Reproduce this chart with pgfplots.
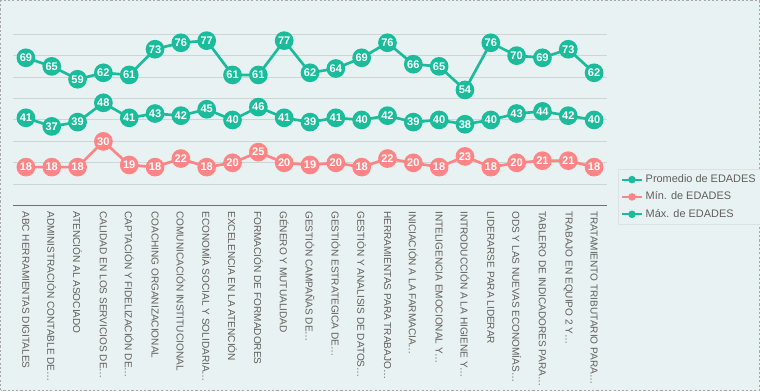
\documentclass[border=0pt]{standalone}
\usepackage{pgfplots}
\usepackage{pgfplotstable}
\pgfplotsset{compat=1.18}
\usepackage{fontspec}
\setmainfont{Liberation Sans}
\definecolor{teal1}{HTML}{1ABC9C}
\definecolor{pink1}{HTML}{FD8585}
\definecolor{bg}{HTML}{E9F2F2}
\definecolor{gridc}{HTML}{CDD5D5}
\definecolor{axc}{HTML}{707070}
\definecolor{lab}{HTML}{605E5C}
\definecolor{frame}{HTML}{A8A8A8}

\pgfplotstableread{
x avg mn mx
0 41 18 69
1 37 18 65
2 39 18 59
3 48 30 62
4 41 19 61
5 43 18 73
6 42 22 76
7 45 18 77
8 40 20 61
9 46 25 61
10 41 20 77
11 39 19 62
12 41 20 64
13 40 18 69
14 42 22 76
15 39 20 66
16 40 18 65
17 38 23 54
18 40 18 76
19 43 20 70
20 44 21 69
21 42 21 73
22 40 18 62
}\data

\begin{document}
\begin{tikzpicture}
\path[use as bounding box, fill=bg] (-9.75pt,-138.98pt) rectangle (560.25pt,154.28pt);
\draw[frame, line width=1.1pt, dash pattern=on 1.6pt off 1.6pt] (-9.2pt,-138.4pt) rectangle (559.7pt,153.7pt);
\begin{axis}[
  at={(0,0)}, anchor=south west,
  scale only axis,
  width=445.5pt, height=144.7pt,
  xmin=-0.5, xmax=22.5, ymin=0, ymax=90,
  clip=false,
  /pgf/number format/assume math mode=true,
  axis line style={draw=none},
  ytick={10,20,30,40,50,60,70,80},
  yticklabels={},
  ymajorgrids,
  grid style={gridc, line width=0.8pt},
  extra y ticks={0},
  extra y tick labels={},
  extra y tick style={major grid style={draw=axc, line width=1.1pt}},
  major tick length=0pt,
  xtick={0,1,2,3,4,5,6,7,8,9,10,11,12,13,14,15,16,17,18,19,20,21,22},
  xticklabels={
    {ABC HERRAMIENTAS DIGITALES},
    {ADMINISTRACIÓN CONTABLE DE…},
    {ATENCIÓN AL ASOCIADO},
    {CALIDAD EN LOS SERVICIOS DE…},
    {CAPTACIÓN Y FIDELIZACIÓN DE…},
    {COACHING ORGANIZACIONAL},
    {COMUNICACIÓN INSTITUCIONAL},
    {ECONOMÍA SOCIAL Y SOLIDARIA…},
    {EXCELENCIA EN LA ATENCIÓN},
    {FORMACIÓN DE FORMADORES},
    {GÉNERO Y MUTUALIDAD},
    {GESTIÓN CAMPAÑAS DE…},
    {GESTIÓN ESTRATEGICA DE…},
    {GESTIÓN Y ANALISIS DE DATOS…},
    {HERRAMIENTAS PARA TRABAJO…},
    {INICIACIÓN A LA FARMACIA…},
    {INTELIGENCIA EMOCIONAL Y…},
    {INTRODUCCIÓN A LA HIGIENE Y…},
    {LIDERARSE PARA LIDERAR},
    {ODS Y LAS NUEVAS ECONOMÍAS…},
    {TABLERO DE INDICADORES PARA…},
    {TRABAJO EN EQUIPO 2 Y…},
    {TRATAMIENTO TRIBUTARIO PARA…}},
  xticklabel shift=2.5pt,
  xticklabel style={anchor=west, rotate=-90, text=lab, font=\fontsize{7.55}{8}\selectfont, inner sep=1.5pt},
  every node near coord/.append style={anchor=center, text=white, font=\bfseries\fontsize{8.3}{8}\selectfont, inner sep=0pt},
  nodes near coords,
  legend image code/.code={\draw[mark repeat=2,mark phase=2,#1] plot coordinates {(0pt,0pt)(7.5pt,0pt)(15pt,0pt)};},
  legend image post style={mark size=2pt, line width=1.6pt},
  legend style={at={(1.0185,0.19)}, anchor=north west, fill=bg, draw=gridc!70, text=lab,
    font=\fontsize{8.2}{9}\selectfont, row sep=1.5pt, inner sep=2pt},
  legend cell align=left,
]
\addplot[teal1, line width=2pt, mark=*, mark size=6pt, mark options={fill=teal1, draw=teal1}] table[x=x, y=avg] {\data};
\addlegendentry{Promedio de EDADES}
\addplot[pink1, line width=2pt, mark=*, mark size=6pt, mark options={fill=pink1, draw=pink1}] table[x=x, y=mn] {\data};
\addlegendentry{Mín. de EDADES}
\addplot[teal1, line width=2pt, mark=*, mark size=6pt, mark options={fill=teal1, draw=teal1}] table[x=x, y=mx] {\data};
\addlegendentry{Máx. de EDADES}
\end{axis}
\end{tikzpicture}
\end{document}
